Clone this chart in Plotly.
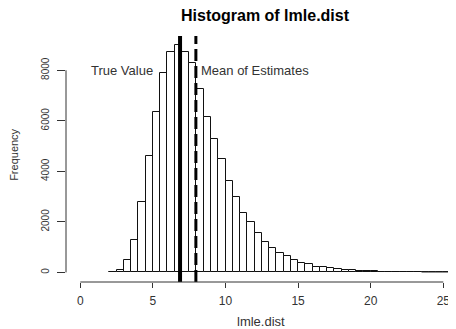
import plotly.graph_objects as go

# ---- data ----
bin_starts = [2.0 + 0.5 * i for i in range(48)]  # 2.0 .. 25.5
counts = [30, 95, 490, 1290, 2770, 4600, 6340, 7900, 8710, 9000,
          8710, 8280, 7260, 6140, 5285, 4480, 3625, 2980, 2370, 1990,
          1555, 1200, 964, 766, 632, 474, 383, 332, 213, 198,
          186, 119, 79, 79, 40, 40, 40, 15, 10, 8,
          6, 5, 4, 0, 0, 0, 0, 0]
bin_width = 0.5
true_value = 6.87
mean_estimates = 7.96
x_ticks = [0, 5, 10, 15, 20, 25]
y_ticks = [0, 2000, 4000, 6000, 8000]
title_text = "Histogram of lmle.dist"
x_label = "lmle.dist"
y_label = "Frequency"

FONT = "Liberation Sans, Arial, sans-serif"
INK = "#333333"

# page body has an 8px default margin; compensate so the plot lands where the reference's does
OFF = 8
L, T, PW, PH = 66, 36, 390, 246.3   # plot area in page pixels


def px(X):
    return (X - L) / PW


def py(Y):
    return (T + PH - Y) / PH


centers = [s + bin_width / 2 for s in bin_starts]

fig = go.Figure()
fig.add_trace(go.Bar(
    x=centers, y=counts, width=bin_width,
    marker=dict(color="white", line=dict(color="#111111", width=1)),
    hoverinfo="skip", showlegend=False,
))
zero_edges = [s for s, c in zip(bin_starts, counts) if c == 0]
if zero_edges:
    fig.add_trace(go.Scatter(
        x=[zero_edges[0], zero_edges[-1] + bin_width], y=[0, 0],
        mode="lines", line=dict(color="#888888", width=1),
        hoverinfo="skip", showlegend=False,
    ))

fig.add_shape(type="line", x0=true_value, x1=true_value, y0=0, y1=1,
              xref="x", yref="paper", line=dict(color="black", width=4))
fig.add_shape(type="line", x0=mean_estimates, x1=mean_estimates, y0=0, y1=1,
              xref="x", yref="paper", line=dict(color="black", width=3, dash="12px,5px"))

fig.add_shape(type="line", x0=x_ticks[0], x1=x_ticks[-1], y0=0, y1=0,
              xref="x", yref="paper", line=dict(color=INK, width=1))
fig.add_shape(type="line", x0=0, x1=0, y0=y_ticks[0], y1=y_ticks[-1],
              xref="paper", yref="y", line=dict(color=INK, width=1))

fig.add_annotation(x=5.14, y=8000, xref="x", yref="y", text="True Value",
                   showarrow=False, xanchor="right", yanchor="middle",
                   font=dict(family=FONT, size=13, color=INK))
fig.add_annotation(x=8.17, y=8000, xref="x", yref="y", text="Mean of Estimates",
                   showarrow=False, xanchor="left", yanchor="middle",
                   font=dict(family=FONT, size=13, color=INK))

fig.add_annotation(x=px(265), y=py(15), xref="paper", yref="paper",
                   text="<b>" + title_text + "</b>", showarrow=False,
                   xanchor="center", yanchor="middle",
                   font=dict(family=FONT, size=16, color="black"))
fig.add_annotation(x=px(261.3), y=py(321.7), xref="paper", yref="paper",
                   text=x_label, showarrow=False, xanchor="center", yanchor="middle",
                   font=dict(family=FONT, size=13, color=INK))
fig.add_annotation(x=px(14), y=py(155), xref="paper", yref="paper",
                   text=y_label, showarrow=False, textangle=-90,
                   xanchor="center", yanchor="middle",
                   font=dict(family=FONT, size=11, color=INK))

fig.update_layout(
    width=456 - OFF, height=329 - OFF,
    margin=dict(l=L - OFF, r=0, t=T - OFF, b=int(round(329 - (T + PH)))),
    paper_bgcolor="white", plot_bgcolor="white",
    bargap=0,
    xaxis=dict(range=[-0.985, 25.875], tickvals=x_ticks, ticks="outside", ticklen=5,
               tickcolor=INK, showline=False, showgrid=False, zeroline=False,
               automargin=False,
               tickfont=dict(family=FONT, size=12, color=INK), ticklabelstandoff=3),
    yaxis=dict(range=[-379, 9356], tickvals=y_ticks, ticks="outside", ticklen=8,
               tickcolor=INK, showline=False, showgrid=False, zeroline=False,
               automargin=False,
               tickangle=-90, tickfont=dict(family=FONT, size=10, color=INK),
               ticklabelstandoff=4),
)

fig.write_html("out.html")
